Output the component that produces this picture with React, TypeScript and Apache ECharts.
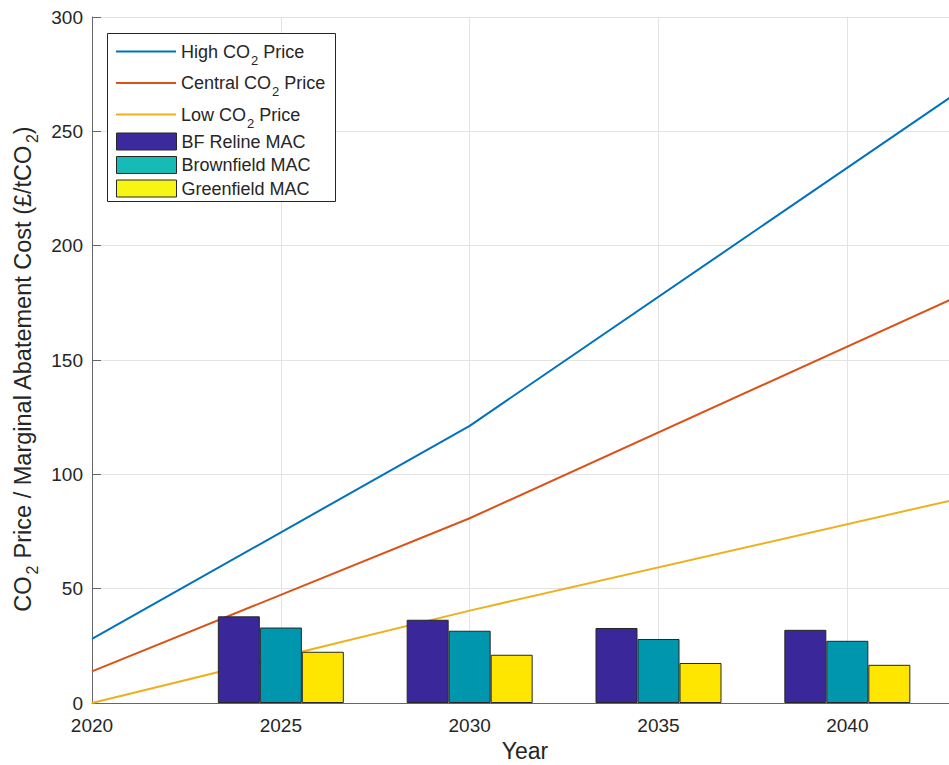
import React, { useEffect, useRef } from "react";
import * as echarts from "echarts";

// Year-based data
const lineYears = [2020, 2030, 2050];
const highPrice = [28, 121.2, 347];
const centralPrice = [13.8, 80.8, 231];
const lowPrice = [0, 40.4, 116];

const barYears = [2025, 2030, 2035, 2040];
const bfRelineMAC = [37.9, 36.4, 32.8, 32.0];
const brownfieldMAC = [33.0, 31.6, 28.0, 27.2];
const greenfieldMAC = [22.4, 21.1, 17.5, 16.7];

const yTicks = { min: 0, max: 300, interval: 50 };
const xRange = { min: 2020, max: 2042.93, interval: 5 };

const FONT = "'Liberation Sans', Arial, Helvetica, sans-serif";
const TXT = "#262626";

const pairs = (xs: number[], ys: number[]) => xs.map((x, i) => [x, ys[i]]);

export default function App() {
  const ref = useRef<HTMLDivElement>(null);
  useEffect(() => {
    if (!ref.current) return;
    const chart = echarts.init(ref.current, null, { renderer: "svg" });
    const subFmt = (name: string) =>
      name
        .split("CO2")
        .map((p) => (p ? `{b|${p}}` : ""))
        .join("{b|CO}{s|2}");
    const option: any = {
      animation: false,
      backgroundColor: "#ffffff",
      textStyle: { fontFamily: FONT, color: TXT },
      grid: {
        left: 92,
        top: 17,
        bottom: 62,
        right: -9,
        containLabel: false,
        outerBoundsMode: "none",
      },
      graphic: [
        {
          type: "rect",
          z: 3,
          shape: { x: 107.5, y: 33.5, width: 228, height: 168 },
          style: { fill: "#ffffff", stroke: TXT, lineWidth: 1 },
        },
      ],
      legend: [
        {
          data: ["High CO2 Price", "Central CO2 Price", "Low CO2 Price"],
          orient: "vertical",
          left: 116,
          top: 41.5,
          padding: 0,
          icon: "rect",
          itemWidth: 60,
          itemHeight: 2,
          itemGap: 6.5,
          selectedMode: false,
          z: 5,
          formatter: subFmt,
          textStyle: {
            fontFamily: FONT,
            color: TXT,
            fontSize: 18,
            rich: {
              b: { fontFamily: FONT, color: TXT, fontSize: 18, lineHeight: 20 },
              s: {
                fontFamily: FONT,
                color: TXT,
                fontSize: 13,
                lineHeight: 20,
                padding: [12, 0, 0, 1],
                verticalAlign: "top",
              },
            },
          },
        },
        {
          data: [
            { name: "BF Reline MAC", itemStyle: { color: "#3b2a9e", borderColor: TXT, borderWidth: 1 } },
            { name: "Brownfield MAC", itemStyle: { color: "#17bbb5", borderColor: TXT, borderWidth: 1 } },
            { name: "Greenfield MAC", itemStyle: { color: "#f7f513", borderColor: TXT, borderWidth: 1 } },
          ],
          orient: "vertical",
          left: 116,
          top: 132.5,
          padding: 0,
          icon: "rect",
          itemWidth: 60,
          itemHeight: 17,
          itemGap: 5.5,
          selectedMode: false,
          z: 5,
          textStyle: { fontFamily: FONT, color: TXT, fontSize: 18, lineHeight: 17 },
        },
      ],
      xAxis: {
        type: "value",
        min: xRange.min,
        max: xRange.max,
        interval: xRange.interval,
        name: "Year",
        nameLocation: "middle",
        nameGap: 32,
        nameTextStyle: { fontFamily: FONT, color: TXT, fontSize: 23 },
        axisLine: { show: true, lineStyle: { color: "#666666", width: 1 } },
        axisTick: { show: true, inside: true, length: 9, lineStyle: { color: "#666666" } },
        axisLabel: {
          fontFamily: FONT,
          color: TXT,
          fontSize: 19,
          margin: 13,
          showMaxLabel: false,
          formatter: (v: number) => String(v),
        },
        splitLine: { show: true, lineStyle: { color: "#e3e3e3", width: 1 } },
      },
      yAxis: {
        type: "value",
        min: yTicks.min,
        max: yTicks.max,
        interval: yTicks.interval,
        name: "{b|CO}{s|2}{b| Price / Marginal Abatement Cost (£/tCO}{s|2}{b|)}",
        nameLocation: "middle",
        nameRotate: 90,
        nameGap: 50,
        nameTextStyle: {
          fontFamily: FONT,
          color: TXT,
          fontSize: 23.5,
          padding: [0, 18, 0, 0],
          rich: {
            b: { fontFamily: FONT, color: TXT, fontSize: 23.5, lineHeight: 26 },
            s: {
              fontFamily: FONT,
              color: TXT,
              fontSize: 16,
              lineHeight: 26,
              padding: [14, 0, 0, 2],
              verticalAlign: "top",
            },
          },
        },
        axisLine: { show: true, lineStyle: { color: "#666666", width: 1 } },
        axisTick: { show: true, inside: true, length: 9, lineStyle: { color: "#666666" } },
        axisLabel: { fontFamily: FONT, color: TXT, fontSize: 19, margin: 9 },
        splitLine: { show: true, lineStyle: { color: "#e3e3e3", width: 1 } },
      },
      series: [
        {
          name: "High CO2 Price",
          type: "line",
          data: pairs(lineYears, highPrice),
          symbol: "none",
          color: "#0072BD",
          lineStyle: { color: "#0072BD", width: 2 },
          z: 2,
        },
        {
          name: "Central CO2 Price",
          type: "line",
          data: pairs(lineYears, centralPrice),
          symbol: "none",
          color: "#D95319",
          lineStyle: { color: "#D95319", width: 2 },
          z: 2,
        },
        {
          name: "Low CO2 Price",
          type: "line",
          data: pairs(lineYears, lowPrice),
          symbol: "none",
          color: "#EDB120",
          lineStyle: { color: "#EDB120", width: 2 },
          z: 2,
        },
        {
          name: "BF Reline MAC",
          type: "bar",
          data: pairs(barYears, bfRelineMAC),
          barWidth: 42,
          barGap: "0%",
          itemStyle: { color: "#3a279a", borderColor: TXT, borderWidth: 1 },
          z: 3,
        },
        {
          name: "Brownfield MAC",
          type: "bar",
          data: pairs(barYears, brownfieldMAC),
          barWidth: 42,
          barGap: "0%",
          itemStyle: { color: "#0097ae", borderColor: TXT, borderWidth: 1 },
          z: 3,
        },
        {
          name: "Greenfield MAC",
          type: "bar",
          data: pairs(barYears, greenfieldMAC),
          barWidth: 42,
          barGap: "0%",
          itemStyle: { color: "#ffe600", borderColor: TXT, borderWidth: 1 },
          z: 3,
        },
      ],
    };
    chart.setOption(option);
    return () => chart.dispose();
  }, []);
  return (
    <div
      ref={ref}
      style={{ position: "absolute", left: 0, top: 0, width: 949, height: 765 }}
    />
  );
}
